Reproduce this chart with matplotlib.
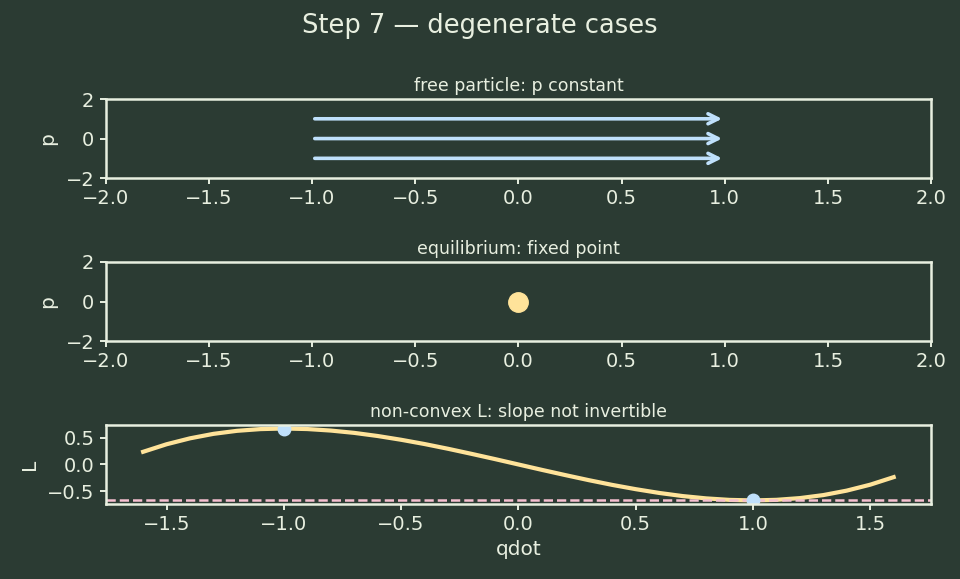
import matplotlib
matplotlib.use("Agg")
import matplotlib.pyplot as plt

bg = "#2b3b33"
fg = "#e8efe0"

# free particle: arrows at constant p
p_levels = [-1, 0, 1]
q_start = -1.0
q_end = 1.0

# equilibrium point
eq_q = [0]
eq_p = [0]

# non-convex L(qdot)
qdot = [-1.6, -1.5, -1.4, -1.3, -1.2, -1.1, -1.0, -0.9, -0.8, -0.7, -0.6, -0.5,
        -0.4, -0.3, -0.2, -0.1, 0.0, 0.1, 0.2, 0.3, 0.4, 0.5, 0.6, 0.7, 0.8,
        0.9, 1.0, 1.1, 1.2, 1.3, 1.4, 1.5, 1.6]
L_left = [0.235, 0.375, 0.485, 0.568, 0.624, 0.656, 0.667, 0.657, 0.629,
          0.586, 0.528, 0.458, 0.379, 0.291, 0.197, 0.100, 0.0]
L = L_left + [-v for v in reversed(L_left[:-1])]
crit_q = [-1.0, 1.0]
crit_L = [0.667, -0.667]
L_min = -0.667

plt.rcParams.update({
    "figure.facecolor": bg, "axes.facecolor": bg, "axes.edgecolor": fg,
    "axes.labelcolor": fg, "xtick.color": fg, "ytick.color": fg,
    "text.color": fg, "axes.linewidth": 1.8, "font.size": 14,
    "xtick.labelsize": 14, "ytick.labelsize": 14, "axes.labelsize": 14.5,
    "xtick.major.width": 1.4, "ytick.major.width": 1.4,
    "xtick.major.size": 4.5, "ytick.major.size": 4.5,
    "axes.labelpad": 6,
})

fig, axes = plt.subplots(3, 1, figsize=(9.6, 5.79), dpi=100)
fig.suptitle("Step 7 \u2014 degenerate cases", fontsize=18.5, color=fg, y=0.978)

ax = axes[0]
for p in p_levels:
    ax.annotate("", xy=(q_end, p), xytext=(q_start, p),
                arrowprops=dict(arrowstyle="->", color="#bfe0fb", lw=2.6,
                                mutation_scale=18))
ax.set_xlim(-2, 2)
ax.set_ylim(-2, 2)
ax.set_ylabel("p")
ax.set_title("free particle: p constant", fontsize=12.5, color=fg)

ax = axes[1]
ax.plot(eq_q, eq_p, "o", color="#ffe39a", markersize=14)
ax.set_xlim(-2, 2)
ax.set_ylim(-2, 2)
ax.set_ylabel("p")
ax.set_title("equilibrium: fixed point", fontsize=12.5, color=fg)

ax = axes[2]
ax.plot(qdot, L, color="#ffe39a", lw=3)
ax.axhline(L_min, color="#f5bfd0", ls="--", lw=1.8)
ax.plot(crit_q, crit_L, "o", color="#bfe0fb", markersize=9)
ax.set_xlabel("qdot", labelpad=4)
ax.set_ylabel("L")
ax.set_title("non-convex L: slope not invertible", fontsize=12.5, color=fg)

fig.subplots_adjust(left=0.110, right=0.970, top=0.829, bottom=0.1295, hspace=1.06)
fig.savefig("out.png", dpi=100, facecolor=bg)
